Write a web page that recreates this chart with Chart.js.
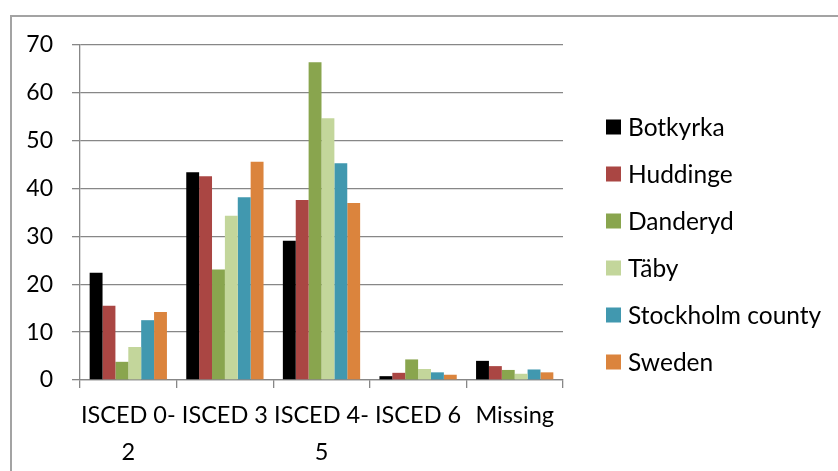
<!DOCTYPE html>
<html>
<head>
<meta charset="utf-8">
<script src="https://cdn.jsdelivr.net/npm/chart.js@4.4.1/dist/chart.umd.min.js"></script>
<style>
  html, body { margin: 0; padding: 0; background: #fff; overflow: hidden; }
  #wrap { position: relative; width: 838px; height: 471px; }
  #frame {
    position: absolute; left: 10px; top: 15px; width: 900px; height: 600px;
    border: 2px solid #a3a3a3; box-sizing: border-box; pointer-events: none;
  }
  canvas { position: absolute; left: 0; top: 0; }
</style>
</head>
<body>
<div id="wrap">
  <div id="frame"></div>
  <canvas id="chart" width="838" height="471"></canvas>
</div>
<script>
// Education level shares (%) by area
const categories = [['ISCED 0-', '2'], ['ISCED 3'], ['ISCED 4-', '5'], ['ISCED 6'], ['Missing']];
const seriesNames = ['Botkyrka', 'Huddinge', 'Danderyd', 'Täby', 'Stockholm county', 'Sweden'];
const botkyrka = [22.4, 43.4, 29.1, 0.8, 4.0];
const huddinge = [15.5, 42.6, 37.6, 1.5, 2.9];
const danderyd = [3.8, 23.1, 66.4, 4.3, 2.1];
const taby = [6.9, 34.3, 54.7, 2.3, 1.3];
const stockholmCounty = [12.5, 38.2, 45.3, 1.6, 2.2];
const sweden = [14.2, 45.6, 37.0, 1.1, 1.6];
const yTickValues = [0, 10, 20, 30, 40, 50, 60, 70];

const colors = ['#000000', '#AA4643', '#89A54E', '#C3D69B', '#4198AF', '#DB843D'];
const values = [botkyrka, huddinge, danderyd, taby, stockholmCounty, sweden];

const FONT = 'Lato, "Open Sans", sans-serif';
const GRID = '#878787';

// Legend drawn as a column to the right of the plot
const sideLegend = {
  id: 'sideLegend',
  afterDraw(chart, args, opts) {
    const ctx = chart.ctx;
    ctx.save();
    ctx.font = opts.size + 'px ' + FONT;
    ctx.textBaseline = 'middle';
    ctx.textAlign = 'left';
    chart.data.datasets.forEach((ds, i) => {
      const cy = opts.top + i * opts.step;
      ctx.fillStyle = ds.backgroundColor;
      ctx.fillRect(opts.x, cy - opts.box / 2, opts.box, opts.box);
      ctx.fillStyle = '#000';
      ctx.fillText(ds.label, opts.x + opts.box + opts.gap, cy + 1);
    });
    ctx.restore();
  }
};

new Chart(document.getElementById('chart'), {
  type: 'bar',
  data: {
    labels: categories,
    datasets: seriesNames.map((name, i) => ({
      label: name,
      data: values[i],
      backgroundColor: colors[i],
      borderWidth: 0,
      categoryPercentage: 0.8,
      barPercentage: 1.0
    }))
  },
  options: {
    responsive: false,
    animation: false,
    devicePixelRatio: 1,
    layout: { padding: { left: 20, top: 45, right: 275, bottom: 0 } },
    plugins: {
      legend: { display: false },
      tooltip: { enabled: false },
      sideLegend: { x: 606, top: 127, step: 47, box: 15, gap: 7, size: 24.5 }
    },
    scales: {
      x: {
        afterFit(scale) { scale.height = 91; },
        grid: {
          offset: true,
          drawOnChartArea: false,
          drawTicks: true,
          tickLength: 8,
          color: GRID,
          lineWidth: 1.3
        },
        border: { color: GRID, width: 1.3 },
        ticks: {
          color: '#000',
          padding: 9,
          maxRotation: 0,
          autoSkip: false,
          font: { family: FONT, size: 23.5, lineHeight: 1.56 }
        }
      },
      y: {
        min: 0,
        max: 70,
        afterFit(scale) { scale.width = 60; },
        afterBuildTicks(scale) { scale.ticks = yTickValues.map(v => ({ value: v })); },
        grid: {
          color: GRID,
          lineWidth: 1.3,
          drawTicks: true,
          tickLength: 8
        },
        border: { color: GRID, width: 1.3 },
        ticks: {
          color: '#000',
          padding: 19,
          font: { family: FONT, size: 23 }
        }
      }
    }
  },
  plugins: [sideLegend]
});
</script>
</body>
</html>
